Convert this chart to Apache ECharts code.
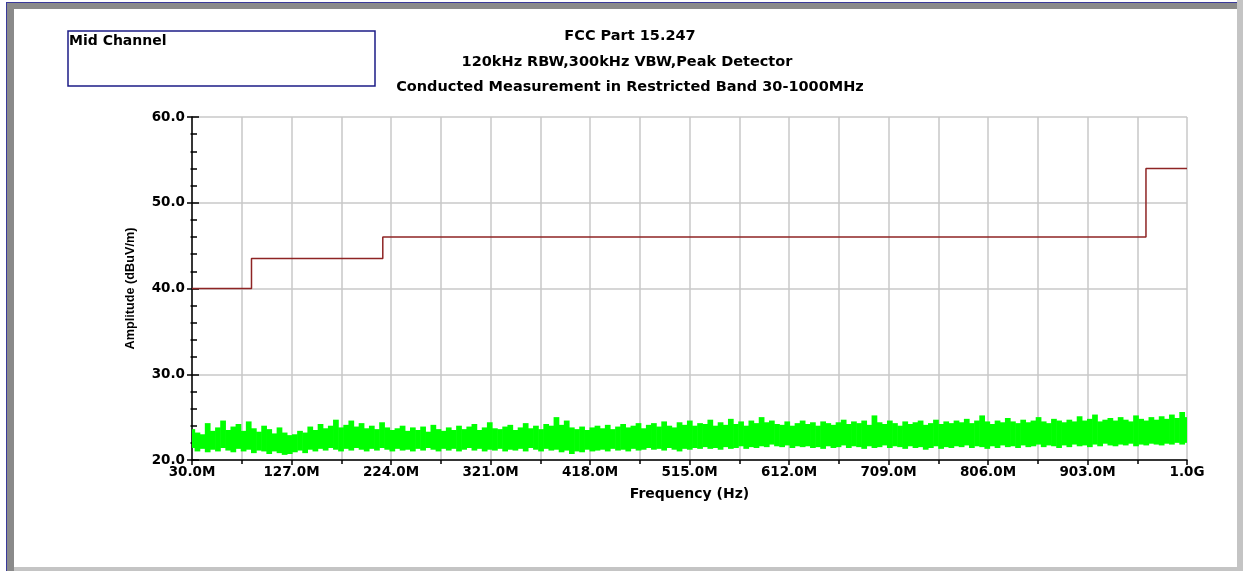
<!DOCTYPE html>
<html>
<head>
<meta charset="utf-8">
<script src="https://cdn.jsdelivr.net/npm/echarts@6/dist/echarts.min.js"></script>
<style>
html,body{margin:0;padding:0;background:#fff;}
#c{width:1243px;height:571px;}
</style>
</head>
<body>
<div id="c"></div>
<script>
// ---- data ----
const titleLines = ['FCC Part 15.247', '120kHz RBW,300kHz VBW,Peak Detector', 'Conducted Measurement in Restricted Band 30-1000MHz'];
const legendText = 'Mid Channel';
const xTickLabels = ['30.0M','127.0M','224.0M','321.0M','418.0M','515.0M','612.0M','709.0M','806.0M','903.0M','1.0G'];
const yTickLabels = ['20.0','30.0','40.0','50.0','60.0'];
// limit line: frequency edges (MHz) and levels (dBuV/m)
const limitFreq = [30, 88, 216, 960, 1000];
const limitLevel = [40, 43.5, 46, 54, 54];
// measured trace envelope (max / min per 5 MHz bin) from 30 MHz to 1000 MHz
const noiseStartMHz = 30;
const noiseStepMHz = 5;
const noiseHigh = [
23.6,23.2,23.0,24.3,23.4,23.8,24.6,23.5,23.9,24.2,
23.4,24.5,23.7,23.3,24.0,23.6,23.1,23.8,23.2,22.9,
23.0,23.4,23.2,23.9,23.5,24.2,23.7,24.0,24.7,23.8,
24.1,24.6,23.9,24.3,23.7,24.0,23.6,24.4,23.8,23.5,
23.7,24.0,23.4,23.8,23.5,23.9,23.3,24.1,23.6,23.4,
23.8,23.5,24.0,23.6,23.9,24.2,23.5,23.8,24.4,23.7,
23.6,23.9,24.1,23.5,23.8,24.3,23.7,24.0,23.6,24.2,
24.0,25.0,24.1,24.6,23.8,23.6,23.9,23.5,23.8,24.0,
23.7,24.1,23.6,23.9,24.2,23.8,24.0,24.3,23.7,24.1,
24.3,23.9,24.5,24.0,23.8,24.4,24.1,24.6,24.0,24.3,
24.2,24.7,24.0,24.4,24.1,24.8,24.2,24.5,24.0,24.6,
24.3,25.0,24.4,24.6,24.2,24.1,24.5,24.0,24.3,24.6,
24.2,24.4,24.0,24.5,24.3,24.1,24.4,24.7,24.2,24.5,
24.3,24.6,24.1,25.2,24.4,24.2,24.6,24.3,24.0,24.5,
24.2,24.4,24.6,24.1,24.3,24.7,24.2,24.5,24.3,24.6,
24.4,24.8,24.3,24.6,25.2,24.5,24.2,24.6,24.4,24.9,
24.5,24.3,24.7,24.4,24.6,25.0,24.5,24.3,24.8,24.6,
24.4,24.7,24.5,25.1,24.6,24.8,25.3,24.5,24.7,24.9,
24.6,25.0,24.7,24.5,25.2,24.8,24.6,25.0,24.7,25.1,
24.8,25.3,24.9,25.6,25.0
];
const noiseLow = [
21.4,21.0,21.3,20.9,21.2,21.0,21.4,21.1,20.9,21.3,
21.0,21.2,20.8,21.1,21.0,20.7,21.0,20.8,20.6,20.7,
20.9,21.1,20.8,21.2,21.0,21.3,21.1,21.4,21.2,21.0,
21.3,21.1,21.4,21.2,21.0,21.3,21.1,21.4,21.2,21.0,
21.3,21.1,21.2,21.0,21.3,21.1,21.4,21.2,21.0,21.3,
21.1,21.3,21.0,21.2,21.4,21.1,21.3,21.0,21.2,21.1,
21.3,21.0,21.2,21.1,21.3,21.0,21.4,21.2,21.0,21.3,
21.1,21.2,20.9,21.1,20.7,21.0,20.9,21.2,21.0,21.1,
21.2,21.0,21.3,21.1,21.2,21.0,21.3,21.1,21.2,21.4,
21.2,21.3,21.1,21.4,21.2,21.0,21.3,21.2,21.4,21.3,
21.5,21.3,21.4,21.2,21.5,21.3,21.4,21.6,21.3,21.5,
21.4,21.6,21.5,21.8,21.6,21.5,21.7,21.4,21.6,21.5,
21.6,21.4,21.5,21.3,21.6,21.4,21.5,21.7,21.4,21.6,
21.5,21.3,21.6,21.4,21.5,21.7,21.4,21.6,21.5,21.3,
21.6,21.4,21.5,21.2,21.4,21.6,21.3,21.5,21.4,21.6,
21.5,21.7,21.4,21.6,21.5,21.3,21.6,21.4,21.7,21.5,
21.6,21.4,21.7,21.5,21.6,21.8,21.5,21.7,21.6,21.4,
21.7,21.5,21.8,21.6,21.7,21.5,21.8,21.6,21.9,21.7,
21.6,21.8,21.7,21.9,21.6,21.8,21.7,21.9,21.8,21.7,
21.9,21.8,22.0,21.8,22.0
];

// ---- build series data ----
const limitData = limitFreq.map((f, i) => [f, limitLevel[i]]);
const noiseData = noiseHigh.map((h, i) => [noiseStartMHz + i * noiseStepMHz, noiseLow[i], h]);

const wideFont = "'DejaVu Sans', sans-serif";
const armFont = "'Liberation Sans', Arial, sans-serif";
const titleFont = "bold 14.5px 'DejaVu Sans'";

const chart = echarts.init(document.getElementById('c'), null, {renderer: 'canvas'});
chart.setOption({
  animation: false,
  backgroundColor: '#ffffff',
  graphic: [
    // window frame
    {type: 'rect', shape: {x: 6, y: 2, width: 1231, height: 1}, style: {fill: '#3a3a9a'}, silent: true},
    {type: 'rect', shape: {x: 7, y: 3, width: 1230, height: 6}, style: {fill: '#8a8a8a'}, silent: true},
    {type: 'rect', shape: {x: 6, y: 2, width: 1, height: 569}, style: {fill: '#3a3a9a'}, silent: true},
    {type: 'rect', shape: {x: 7, y: 3, width: 7, height: 568}, style: {fill: '#8a8a8a'}, silent: true},
    {type: 'rect', shape: {x: 1237, y: 0, width: 6, height: 571}, style: {fill: '#c4c4c4'}, silent: true},
    {type: 'rect', shape: {x: 14, y: 567, width: 1223, height: 4}, style: {fill: '#c4c4c4'}, silent: true},
    // legend box
    {type: 'rect', shape: {x: 68, y: 31, width: 307, height: 55}, style: {fill: '#ffffff', stroke: '#1c1c86', lineWidth: 1.5}, silent: true},
    {type: 'text', x: 69, y: 41, style: {text: legendText, font: "bold 14px 'DejaVu Sans'", fill: '#000', textAlign: 'left', textVerticalAlign: 'middle'}, silent: true},
    // titles
    {type: 'text', x: 630, y: 36, style: {text: titleLines[0], font: titleFont, fill: '#000', textAlign: 'center', textVerticalAlign: 'middle'}, silent: true},
    {type: 'text', x: 627, y: 62, style: {text: titleLines[1], font: titleFont, fill: '#000', textAlign: 'center', textVerticalAlign: 'middle'}, silent: true},
    {type: 'text', x: 630, y: 87, style: {text: titleLines[2], font: titleFont, fill: '#000', textAlign: 'center', textVerticalAlign: 'middle'}, silent: true}
  ],
  grid: {left: 192, right: 56, top: 117, bottom: 111},
  xAxis: [{
    type: 'value', min: 30, max: 1000, interval: 97,
    name: 'Frequency (Hz)', nameLocation: 'middle', nameGap: 27,
    nameTextStyle: {fontFamily: wideFont, fontWeight: 'bold', fontSize: 14, color: '#000'},
    axisLine: {show: true, lineStyle: {color: '#000', width: 1.5}},
    axisTick: {show: true, inside: false, length: 5, lineStyle: {color: '#000', width: 1.5}},
    minorTick: {show: true, splitNumber: 2, length: 4, lineStyle: {color: '#000', width: 1.5}},
    axisLabel: {margin: 5, fontFamily: wideFont, fontWeight: 'bold', fontSize: 13.5, color: '#000',
      formatter: v => xTickLabels[Math.round((v - 30) / 97)]},
    splitLine: {show: true, lineStyle: {color: '#c8c8c8', width: 1.5}},
    minorSplitLine: {show: true, lineStyle: {color: '#c8c8c8', width: 1.5}}
  }],
  yAxis: [{
    type: 'value', min: 20, max: 60, interval: 10,
    name: 'Amplitude (dBuV/m)', nameLocation: 'middle', nameGap: 55, nameRotate: 90,
    nameTextStyle: {fontFamily: armFont, fontWeight: 'bold', fontSize: 12.7, color: '#000'},
    axisLine: {show: true, lineStyle: {color: '#000', width: 1.5}},
    axisTick: {show: true, inside: true, length: 7, lineStyle: {color: '#000', width: 1.5}},
    minorTick: {show: true, splitNumber: 5, length: 5, lineStyle: {color: '#000', width: 1.5}},
    axisLabel: {margin: 7, fontFamily: wideFont, fontWeight: 'bold', fontSize: 13.5, color: '#000',
      formatter: v => yTickLabels[Math.round((v - 20) / 10)]},
    splitLine: {show: true, lineStyle: {color: '#c8c8c8', width: 1.5}},
    minorSplitLine: {show: false}
  }, {
    type: 'value', min: 20, max: 60, interval: 10, position: 'left',
    axisLine: {show: false},
    axisTick: {show: true, inside: false, length: 5, lineStyle: {color: '#000', width: 1.5}},
    minorTick: {show: true, splitNumber: 5, length: 1.5, lineStyle: {color: '#000', width: 1.5}},
    axisLabel: {show: false},
    splitLine: {show: false}
  }],
  series: [{
    name: 'Trace', type: 'custom', data: noiseData, yAxisIndex: 0, clip: true, silent: true, z: 2,
    encode: {x: 0, y: [1, 2]},
    renderItem: function (params, api) {
      const f = api.value(0), lo = api.value(1), hi = api.value(2);
      const p1 = api.coord([f - noiseStepMHz / 2, hi]);
      const p2 = api.coord([f + noiseStepMHz / 2, lo]);
      const r = echarts.graphic.clipRectByRect(
        {x: p1[0], y: p1[1], width: p2[0] - p1[0] + 0.6, height: p2[1] - p1[1]},
        {x: params.coordSys.x, y: params.coordSys.y, width: params.coordSys.width, height: params.coordSys.height});
      return r && {type: 'rect', shape: r, style: {fill: '#00ff00'}};
    }
  }, {
    name: 'Limit', type: 'line', data: limitData, step: 'end', yAxisIndex: 0,
    showSymbol: false, symbol: 'none', silent: true, z: 3,
    lineStyle: {color: '#8e2424', width: 1.5}
  }]
});
</script>
</body>
</html>
